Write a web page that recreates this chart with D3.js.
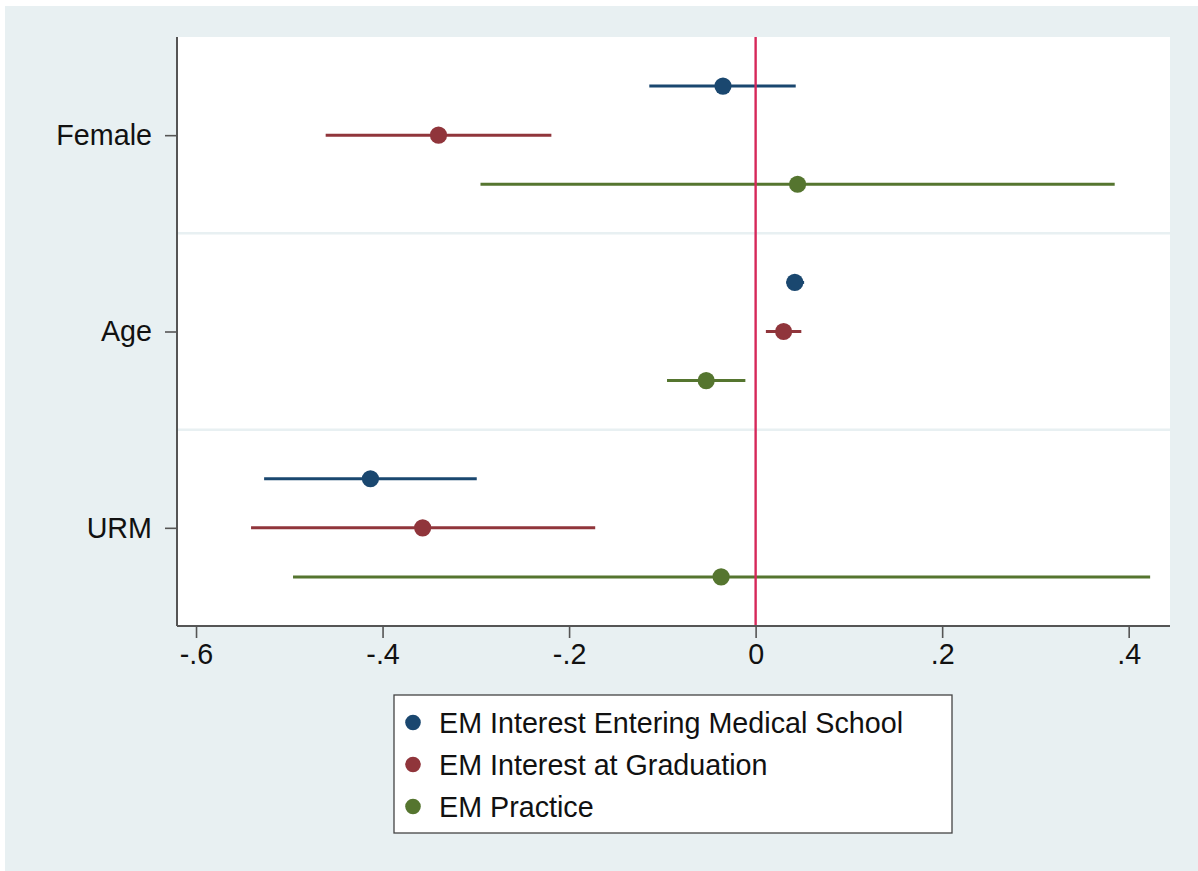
<!DOCTYPE html>
<html>
<head>
<meta charset="utf-8">
<script src="https://cdn.jsdelivr.net/npm/d3@7"></script>
<style>
  html, body { margin: 0; padding: 0; background: #ffffff; }
  svg { display: block; }
  text { font-family: "Liberation Sans", Arial, sans-serif; fill: #111; }
</style>
</head>
<body>
<svg id="chart" width="1198" height="871"></svg>
<script>
// Covariates shown on the y axis, top to bottom
const covariates = ["Female", "Age", "URM"];
// Outcome models (one coefficient per covariate each)
const seriesNames = [
  "EM Interest Entering Medical School",
  "EM Interest at Graduation",
  "EM Practice"
];
const seriesColors = ["#1a476f", "#90353b", "#55752f"];

// Point estimates, ordered like covariates
const estEntering   = [-0.035,  0.042, -0.413];
const estGraduation = [-0.340,  0.030, -0.357];
const estPractice   = [ 0.045, -0.053, -0.037];
// Lower confidence limits
const loEntering    = [-0.114,  0.033, -0.527];
const loGraduation  = [-0.461,  0.011, -0.541];
const loPractice    = [-0.295, -0.095, -0.496];
// Upper confidence limits
const hiEntering    = [ 0.043,  0.052, -0.299];
const hiGraduation  = [-0.219,  0.049, -0.172];
const hiPractice    = [ 0.385, -0.011,  0.423];

const xTicks = [-0.6, -0.4, -0.2, 0, 0.2, 0.4];
const xTickLabels = ["-.6", "-.4", "-.2", "0", ".2", ".4"];

const est = [estEntering, estGraduation, estPractice];
const lo = [loEntering, loGraduation, loPractice];
const hi = [hiEntering, hiGraduation, hiPractice];

const rows = [];
covariates.forEach((c, ci) => {
  seriesNames.forEach((s, si) => {
    rows.push({ cov: c, series: si, est: est[si][ci], lo: lo[si][ci], hi: hi[si][ci] });
  });
});

const svg = d3.select("#chart");
const W = 1198, H = 871;
const plot = { left: 177, right: 1170, top: 37, bottom: 626 };
const bg = "#e8f0f2";
const fontSize = 28.7;

// Outer graph region
svg.append("rect").attr("x", 5).attr("y", 6).attr("width", W - 5).attr("height", H - 6).attr("fill", bg);
// Plot region
svg.append("rect").attr("x", plot.left).attr("y", plot.top)
  .attr("width", plot.right - plot.left).attr("height", plot.bottom - plot.top).attr("fill", "#ffffff");

const x = d3.scaleLinear().domain([-0.6204, 0.4443]).range([plot.left, plot.right]);
const yBand = d3.scaleBand().domain(covariates).range([plot.top, plot.bottom]).padding(0);
const yInner = d3.scalePoint().domain(d3.range(seriesNames.length)).range([0, yBand.bandwidth()]).padding(1);
const yPos = d => yBand(d.cov) + yInner(d.series);

// Separators between covariate groups
svg.append("g").selectAll("line").data(covariates.slice(1)).join("line")
  .attr("x1", plot.left).attr("x2", plot.right)
  .attr("y1", d => yBand(d)).attr("y2", d => yBand(d))
  .attr("stroke", bg).attr("stroke-width", 2.5);

// Confidence intervals
svg.append("g").selectAll("line").data(rows).join("line")
  .attr("x1", d => x(d.lo)).attr("x2", d => x(d.hi))
  .attr("y1", yPos).attr("y2", yPos)
  .attr("stroke", d => seriesColors[d.series]).attr("stroke-width", 3);

// Reference line at zero
svg.append("line")
  .attr("x1", x(0)).attr("x2", x(0)).attr("y1", plot.top).attr("y2", plot.bottom)
  .attr("stroke", "#d6285a").attr("stroke-width", 2.4);

// Point estimates
svg.append("g").selectAll("circle").data(rows).join("circle")
  .attr("cx", d => x(d.est)).attr("cy", yPos).attr("r", 8.6)
  .attr("fill", d => seriesColors[d.series]);

// X axis
const xAxis = d3.axisBottom(x).tickValues(xTicks)
  .tickFormat((d, i) => xTickLabels[i]).tickSize(12).tickPadding(6);
const gx = svg.append("g").attr("transform", `translate(0,${plot.bottom})`).call(xAxis);
gx.select(".domain").attr("stroke", "#555").attr("stroke-width", 2)
  .attr("d", `M${plot.left},0H${plot.right}`);
gx.selectAll(".tick line").attr("stroke", "#555").attr("stroke-width", 1.6);
gx.selectAll(".tick text").attr("font-size", fontSize).attr("font-family", "Liberation Sans, Arial, sans-serif")
  .attr("fill", "#111").attr("dy", "0.71em");

// Y axis
const yAxis = d3.axisLeft(d3.scalePoint().domain(covariates)
  .range([yBand(covariates[0]) + yBand.bandwidth() / 2, yBand(covariates[covariates.length - 1]) + yBand.bandwidth() / 2]))
  .tickSize(12).tickPadding(13);
const gy = svg.append("g").attr("transform", `translate(${plot.left},0)`).call(yAxis);
gy.select(".domain").attr("stroke", "#555").attr("stroke-width", 2)
  .attr("d", `M0,${plot.top}V${plot.bottom}`);
gy.selectAll(".tick line").attr("stroke", "#555").attr("stroke-width", 1.6);
gy.selectAll(".tick text").attr("font-size", fontSize).attr("font-family", "Liberation Sans, Arial, sans-serif")
  .attr("fill", "#111");

// Legend
const leg = { x: 394, y: 695, w: 558, h: 138 };
const lg = svg.append("g");
lg.append("rect").attr("x", leg.x).attr("y", leg.y).attr("width", leg.w).attr("height", leg.h)
  .attr("fill", "#ffffff").attr("stroke", "#444").attr("stroke-width", 1.3);
const legY = d3.scalePoint().domain(d3.range(seriesNames.length)).range([722.5, 806.5]);
const items = lg.selectAll("g.item").data(seriesNames).join("g").attr("class", "item")
  .attr("transform", (d, i) => `translate(${leg.x},${legY(i)})`);
items.append("circle").attr("cx", 19).attr("cy", 0).attr("r", 7.8)
  .attr("fill", (d, i) => seriesColors[i]);
items.append("text").attr("x", 45).attr("dy", "0.36em").attr("font-size", fontSize).text(d => d);
</script>
</body>
</html>
